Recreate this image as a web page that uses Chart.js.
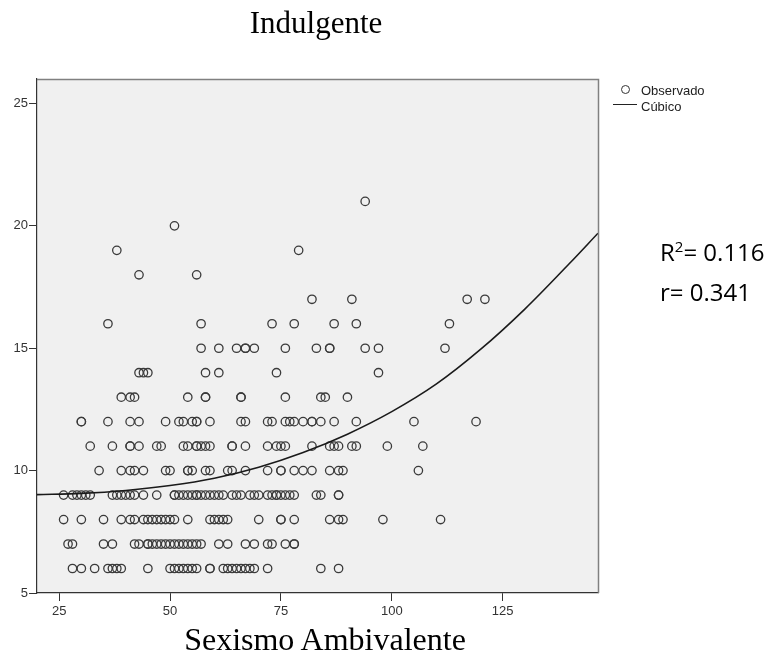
<!DOCTYPE html>
<html>
<head>
<meta charset="utf-8">
<script src="https://cdn.jsdelivr.net/npm/chart.js@4.4.1/dist/chart.umd.min.js"></script>
<style>
  body { margin: 0; background: #fff; }
  #wrap { position: relative; width: 776px; height: 661px; overflow: hidden; }
  #chart { position: absolute; left: 0; top: 0; }
  .lbl { position: absolute; white-space: nowrap; line-height: 1; color: #000; }
  .serif { font-family: "Liberation Serif", "Times New Roman", serif; }
  .sans { font-family: "Liberation Sans", Arial, sans-serif; color: #222; }
  .stat { font-family: "Open Sans", "Noto Sans", sans-serif; font-size: 24px; }
</style>
</head>
<body>
<div id="wrap">
  <canvas id="chart" width="776" height="661"></canvas>

  <div class="lbl serif" style="left:0; width:632px; text-align:center; top:6.7px; font-size:31px;">Indulgente</div>
  <div class="lbl serif" style="left:0; width:650px; text-align:center; top:623.2px; font-size:32px;">Sexismo Ambivalente</div>

  <!-- leyenda -->
  <div style="position:absolute; left:620.5px; top:84.5px; width:9px; height:9px; border:1.3px solid #333; border-radius:50%; box-sizing:border-box;"></div>
  <div class="lbl sans" style="left:641px; top:83.7px; font-size:13px;">Observado</div>
  <div style="position:absolute; left:613px; top:103.5px; width:24px; height:1.5px; background:#222;"></div>
  <div class="lbl sans" style="left:641px; top:99.7px; font-size:13px;">Cúbico</div>

  <!-- estadisticos -->
  <div class="lbl stat" style="left:660px; top:240.4px;">R<span style="font-size:15px; position:relative; top:-9px;">2</span>= 0.116</div>
  <div class="lbl stat" style="left:660px; top:280.4px;">r= 0.341</div>
</div>

<script>
// valores observados: x (Sexismo Ambivalente) agrupados por cada y (Indulgente)
const xAt6 = [28, 30, 33, 36, 37, 38, 39, 45, 50, 51, 52, 53, 54, 55, 56, 59, 59, 62, 63, 64, 65, 66, 67, 68, 69, 72, 84, 88];
const xAt7 = [27, 28, 35, 37, 42, 43, 45, 45, 46, 47, 48, 49, 50, 51, 52, 53, 54, 55, 56, 57, 61, 63, 67, 69, 72, 73, 76, 78, 78];
const xAt8 = [26, 30, 35, 39, 41, 42, 44, 45, 46, 47, 48, 49, 50, 51, 54, 59, 60, 61, 62, 63, 70, 75, 75, 78, 86, 88, 89, 98, 111];
const xAt9 = [26, 28, 29, 30, 31, 32, 37, 38, 39, 40, 41, 42, 44, 47, 51, 51, 52, 53, 54, 55, 56, 56, 57, 58, 59, 60, 61, 62,
              64, 65, 66, 68, 69, 70, 72, 73, 74, 74, 75, 76, 77, 78, 83, 84, 88, 88];
const xAt10 = [34, 39, 41, 42, 44, 49, 50, 54, 54, 55, 58, 59, 63, 64, 67, 72, 75, 75, 78, 80, 82, 86, 88, 89, 106];
const xAt11 = [32, 37, 41, 41, 43, 47, 48, 53, 54, 56, 56, 57, 58, 59, 64, 64, 67, 72, 74, 75, 76, 82, 86, 87, 88, 91, 92, 99, 107];
const xAt12 = [30, 30, 36, 41, 43, 49, 52, 53, 55, 56, 56, 59, 66, 67, 72, 73, 76, 77, 78, 80, 82, 82, 84, 87, 92, 105, 119];
const xAt13 = [39, 41, 42, 54, 58, 58, 66, 66, 76, 84, 85, 90];
const xAt14 = [43, 44, 45, 58, 61, 74, 97];
const xAt15 = [57, 61, 65, 67, 67, 69, 76, 83, 86, 86, 94, 97, 112];
const xAt16 = [36, 57, 73, 78, 87, 92, 113];
const xAt17 = [82, 91, 117, 121];
const xAt18 = [43, 56];
const xAt19 = [38, 79];
const xAt20 = [51];
const xAt21 = [94];

const rowLevels = [6, 7, 8, 9, 10, 11, 12, 13, 14, 15, 16, 17, 18, 19, 20, 21];
const rowValues = [xAt6, xAt7, xAt8, xAt9, xAt10, xAt11, xAt12, xAt13, xAt14, xAt15, xAt16, xAt17, xAt18, xAt19, xAt20, xAt21];

// curva cubica ajustada
const curveX = [20, 30, 40, 50, 60, 70, 80, 90, 100, 110, 120, 130, 140, 146.5];
const curveY = [9.02, 9.07, 9.19, 9.39, 9.69, 10.14, 10.74, 11.49, 12.41, 13.53, 14.95, 16.6, 18.45, 19.7];

const xTicks = [25, 50, 75, 100, 125];
const yTicks = [5, 10, 15, 20, 25];

const observed = [];
rowLevels.forEach((y, i) => {
  rowValues[i].forEach((x) => observed.push({ x: x, y: y }));
});
const curve = curveX.map((x, i) => ({ x: x, y: curveY[i] }));

// fondo gris y marco del area del grafico
const plotFrame = {
  id: "plotFrame",
  beforeDraw(chart) {
    const { ctx, chartArea: a } = chart;
    ctx.save();
    ctx.fillStyle = "#f0f0f0";
    ctx.fillRect(a.left, a.top, a.right - a.left, a.bottom - a.top);
    ctx.restore();
  },
  afterDraw(chart) {
    const { ctx, chartArea: a } = chart;
    ctx.save();
    ctx.strokeStyle = "#808080";
    ctx.lineWidth = 1.5;
    ctx.beginPath();
    ctx.moveTo(a.left, a.top + 0.5);
    ctx.lineTo(a.right + 0.5, a.top + 0.5);
    ctx.lineTo(a.right + 0.5, a.bottom);
    ctx.stroke();
    ctx.restore();
  },
};

const tickFont = { family: "'Liberation Sans', Arial, sans-serif", size: 13 };

new Chart(document.getElementById("chart"), {
  type: "scatter",
  data: {
    datasets: [
      {
        label: "Cúbico",
        data: curve,
        showLine: true,
        tension: 0.35,
        borderColor: "#1a1a1a",
        borderWidth: 1.6,
        pointRadius: 0,
        fill: false,
      },
      {
        label: "Observado",
        data: observed,
        pointStyle: "circle",
        pointRadius: 4.2,
        borderWidth: 1.3,
        borderColor: "#3a3a3a",
        backgroundColor: "rgba(0,0,0,0)",
      },
    ],
  },
  options: {
    responsive: false,
    devicePixelRatio: 1,
    animation: false,
    layout: { padding: { top: 79, right: 178, left: 0, bottom: 0 } },
    plugins: { legend: { display: false }, tooltip: { enabled: false } },
    scales: {
      x: {
        type: "linear",
        min: 20,
        max: 146.5,
        afterBuildTicks: (s) => { s.ticks = xTicks.map((v) => ({ value: v })); },
        afterFit: (s) => { s.height = 68; },
        grid: { drawOnChartArea: false, drawTicks: true, tickLength: 8, color: "#333" },
        border: { display: true, color: "#333", width: 1.2 },
        ticks: { font: tickFont, color: "#333", padding: 3, maxRotation: 0, autoSkip: false },
      },
      y: {
        type: "linear",
        min: 5,
        max: 26,
        afterBuildTicks: (s) => { s.ticks = yTicks.map((v) => ({ value: v })); },
        afterFit: (s) => { s.width = 37; },
        grid: { drawOnChartArea: false, drawTicks: true, tickLength: 8, color: "#333" },
        border: { display: true, color: "#333", width: 1.2 },
        ticks: { font: tickFont, color: "#333", padding: 1, autoSkip: false },
      },
    },
  },
  plugins: [plotFrame],
});
</script>
</body>
</html>
